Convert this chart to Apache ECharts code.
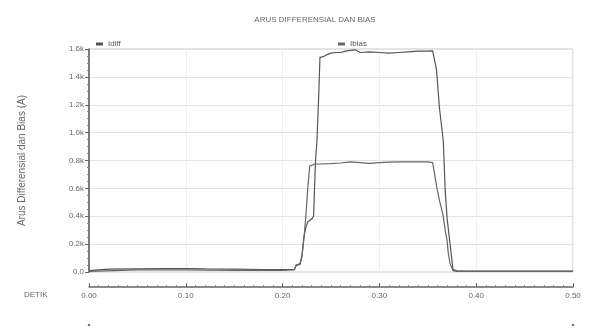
<!DOCTYPE html>
<html>
<head>
<meta charset="utf-8">
<script src="https://cdn.jsdelivr.net/npm/echarts@6/dist/echarts.min.js"></script>
<style>html,body{margin:0;padding:0;background:#fff;}#c{width:595px;height:331px;}</style>
</head>
<body>
<div id="c"></div>
<script>
// Time (s) and current (A) for differential current
const tDiff = [0,0.01,0.02,0.05,0.08,0.10,0.12,0.15,0.18,0.20,0.212,0.214,0.218,0.220,0.222,0.224,0.226,0.230,0.232,0.234,0.2355,0.2375,0.2386,0.242,0.246,0.25,0.255,0.26,0.265,0.27,0.275,0.28,0.282,0.29,0.30,0.31,0.32,0.33,0.34,0.35,0.355,0.357,0.359,0.362,0.366,0.368,0.370,0.373,0.376,0.38,0.40,0.45,0.50];
const vDiff = [10,15,20,22,25,25,22,20,18,18,18,50,60,120,250,320,360,380,400,800,940,1300,1540,1545,1560,1570,1575,1575,1585,1590,1594,1575,1565,1580,1575,1570,1575,1580,1585,1585,1587,1580,1450,1180,940,580,380,200,20,8,6,6,6];
// Time (s) and current (A) for bias current
const tBias = [0,0.05,0.10,0.15,0.20,0.212,0.214,0.218,0.220,0.222,0.224,0.226,0.228,0.2335,0.24,0.25,0.26,0.27,0.28,0.29,0.30,0.31,0.32,0.33,0.34,0.35,0.355,0.3595,0.3625,0.3657,0.368,0.370,0.371,0.373,0.376,0.38,0.45,0.50];
const vBias = [5,15,15,12,12,15,45,55,110,240,400,600,760,775,775,778,782,790,785,780,785,788,790,790,790,790,785,600,500,410,300,220,145,60,10,5,5,5];
// Axis ticks
const yTicks = [0,200,400,600,800,1000,1200,1400,1600];
const xTicks = [0,0.1,0.2,0.3,0.4,0.5];
const seriesNames = ['Idiff','Ibias'];
const titleText = 'ARUS DIFFERENSIAL DAN BIAS';
const yName = 'Arus Differensial dan Bias (A)';
const xName = 'DETIK';

const zip = (a,b) => a.map((t,i)=>[t,b[i]]);
const chart = echarts.init(document.getElementById('c'));
const font = 'Liberation Sans';
chart.setOption({
  animation:false,
  backgroundColor:'#fff',
  title:{text:titleText,left:310,top:11,textAlign:'center',textStyle:{fontSize:8,fontWeight:'normal',color:'#666',fontFamily:font}},
  legend:[
    {data:[seriesNames[0]],left:91,top:35,icon:'rect',itemWidth:7,itemHeight:3,itemGap:3,textStyle:{fontSize:8,color:'#555',fontFamily:font}},
    {data:[seriesNames[1]],left:333,top:35,icon:'rect',itemWidth:7,itemHeight:3,itemGap:3,textStyle:{fontSize:8,color:'#555',fontFamily:font}}
  ],
  grid:{left:89,right:22,top:49,bottom:59,show:true,borderColor:'#c8c8c8',borderWidth:1},
  xAxis:{type:'value',min:xTicks[0],max:xTicks[xTicks.length-1],interval:0.1,offset:15,
    axisLine:{show:true,onZero:false,lineStyle:{color:'#666',width:1.5}},
    axisTick:{show:true,inside:true,length:4,lineStyle:{color:'#666'}},
    minorTick:{show:true,splitNumber:10,length:2,lineStyle:{color:'#888'}},
    axisLabel:{fontSize:8,color:'#666',margin:5,fontFamily:font,formatter:v=>v.toFixed(2)},
    splitLine:{show:true,lineStyle:{color:'#eee'}}},
  yAxis:{type:'value',min:yTicks[0],max:yTicks[yTicks.length-1],interval:200,
    name:yName,nameLocation:'middle',nameGap:62,nameTextStyle:{fontSize:10,color:'#666',fontFamily:font},
    axisLine:{show:true,lineStyle:{color:'#555',width:1.5}},
    axisTick:{show:true,length:4,lineStyle:{color:'#666'}},
    minorTick:{show:true,splitNumber:4,length:2,lineStyle:{color:'#888'}},
    axisLabel:{fontSize:8,color:'#666',margin:5,fontFamily:font,formatter:v=>v===0?'0.0':(v/1000).toFixed(1)+'k'},
    splitLine:{show:true,lineStyle:{color:'#e2e2e2'}}},
  graphic:[
    {type:'text',left:24,top:291,style:{text:xName,fontSize:8,fill:'#666',fontFamily:font}},
    {type:'circle',shape:{cx:89,cy:325,r:1.3},style:{fill:'#777'}},
    {type:'circle',shape:{cx:573,cy:325,r:1.3},style:{fill:'#777'}}
  ],
  series:[
    {name:seriesNames[0],type:'line',data:zip(tDiff,vDiff),showSymbol:false,lineStyle:{color:'#555',width:1.2},itemStyle:{color:'#555'}},
    {name:seriesNames[1],type:'line',data:zip(tBias,vBias),showSymbol:false,lineStyle:{color:'#666',width:1.2},itemStyle:{color:'#666'}}
  ]
});
</script>
</body>
</html>
